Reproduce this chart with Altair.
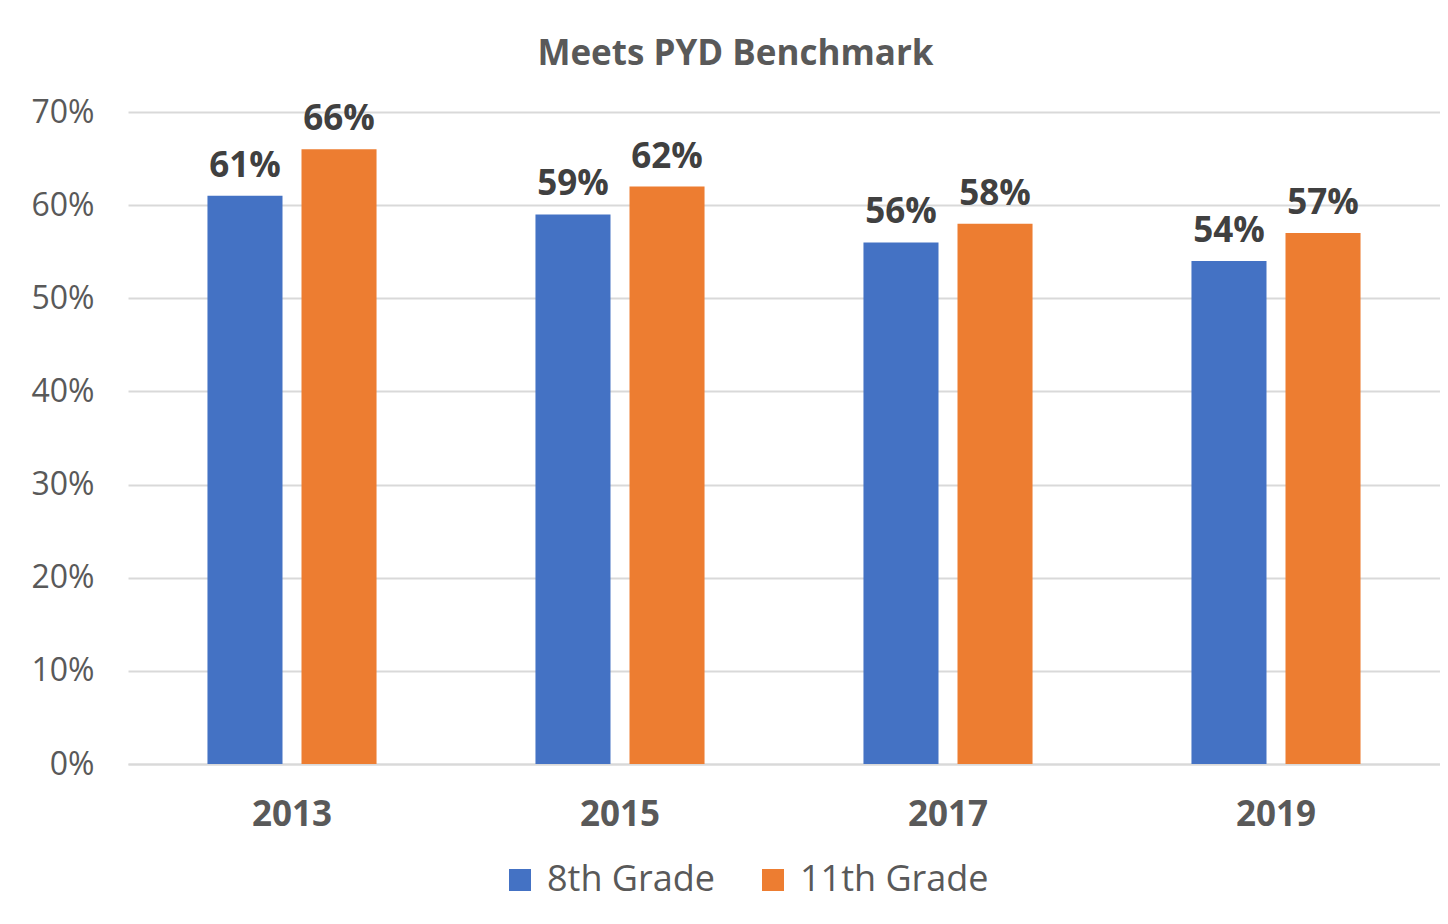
import altair as alt
import pandas as pd

years = ["2013", "2015", "2017", "2019"]
grades = ["8th Grade", "11th Grade"]
grade8 = [0.61, 0.59, 0.56, 0.54]
grade11 = [0.66, 0.62, 0.58, 0.57]
colors = ["#4472C4", "#ED7D31"]

rows = []
for i, y in enumerate(years):
    rows.append({"year": y, "grade": grades[0], "value": grade8[i]})
    rows.append({"year": y, "grade": grades[1], "value": grade11[i]})
df = pd.DataFrame(rows)

FONT = "Open Sans"

base = alt.Chart(df).encode(
    x=alt.X("year:N", sort=years,
            scale=alt.Scale(paddingInner=0, paddingOuter=0),
            axis=alt.Axis(title=None, labelAngle=0, labelFont=FONT, labelFontSize=35,
                          labelFontWeight="bold", labelColor="#595959", labelPadding=33,
                          ticks=False, domain=True, domainColor="#d9d9d9", domainWidth=2,
                          grid=False)),
    xOffset=alt.XOffset("grade:N", sort=grades,
                        scale=alt.Scale(paddingInner=0.202, paddingOuter=0.845)),
    y=alt.Y("value:Q",
            scale=alt.Scale(domain=[0, 0.7]),
            axis=alt.Axis(title=None, format=".0%", values=[0, 0.1, 0.2, 0.3, 0.4, 0.5, 0.6, 0.7],
                          labelFont=FONT, labelFontSize=32, labelColor="#595959",
                          labelPadding=34, ticks=False, domain=False,
                          gridColor="#d9d9d9", gridWidth=2)),
)

bars = base.mark_bar().encode(
    color=alt.Color("grade:N", sort=grades,
                    scale=alt.Scale(domain=grades, range=colors),
                    legend=alt.Legend(title=None, orient="none", direction="horizontal",
                                      legendX=374, legendY=750,
                                      labelFont=FONT, labelFontSize=36, labelColor="#595959",
                                      labelLimit=400,
                                      symbolType="square", symbolSize=484, symbolStrokeWidth=0,
                                      columnPadding=40, labelOffset=9))
)

labels = base.mark_text(baseline="bottom", dy=-12, font=FONT, fontSize=35,
                        fontWeight="bold", color="#404040").encode(
    text=alt.Text("value:Q", format=".0%")
)

chart = alt.layer(bars, labels).properties(
    width=1312, height=652,
    title=alt.TitleParams("Meets PYD Benchmark", font=FONT, fontSize=35, fontWeight="bold",
                          color="#595959", anchor="middle", frame="bounds", offset=24),
    padding={"left": 22, "top": 29, "right": 0, "bottom": 12},
    background="white",
).configure_view(stroke=None)

chart.save("out.html", embed_options={"renderer": "svg", "actions": False})
